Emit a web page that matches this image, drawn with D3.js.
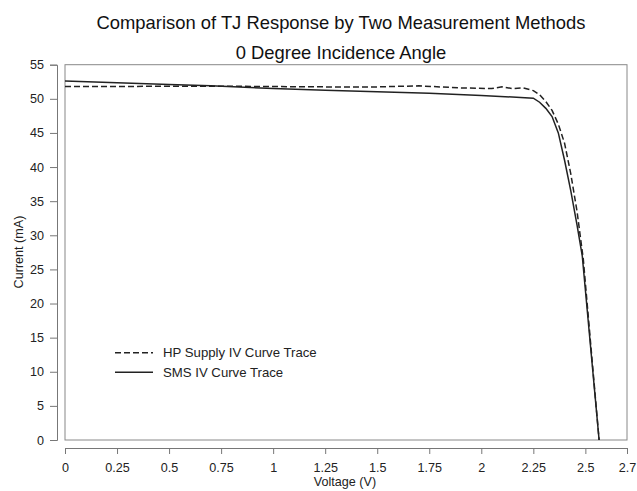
<!DOCTYPE html>
<html><head><meta charset="utf-8">
<script src="https://cdn.jsdelivr.net/npm/d3@7"></script>
<style>body{margin:0;background:#fff;} text{font-family:"Liberation Sans",Arial,Helvetica,sans-serif;}</style>
</head><body>
<svg id="c" width="637" height="491"></svg>
<script>
const hpVoltage = [0, 0.25, 0.5, 0.75, 1.0, 1.25, 1.5, 1.7, 1.9, 2.05, 2.1, 2.15, 2.2, 2.25, 2.28, 2.31, 2.34, 2.37, 2.40, 2.43, 2.46, 2.49, 2.53, 2.566];
const hpCurrent = [51.8, 51.8, 51.85, 51.85, 51.8, 51.75, 51.75, 51.9, 51.6, 51.5, 51.75, 51.5, 51.6, 51.2, 50.6, 49.6, 48.3, 46.3, 43.5, 39.0, 33.5, 26.5, 12.5, 0];
const smsVoltage = [0, 0.25, 0.5, 0.7, 1.0, 1.25, 1.5, 1.75, 2.0, 2.25, 2.28, 2.31, 2.34, 2.37, 2.40, 2.43, 2.46, 2.485, 2.566];
const smsCurrent = [52.6, 52.35, 52.1, 51.9, 51.5, 51.25, 51.05, 50.8, 50.5, 50.1, 49.5, 48.6, 47.4, 45.0, 41.0, 36.5, 31.5, 27.0, 0];
const xTicks = [0, 0.25, 0.5, 0.75, 1, 1.25, 1.5, 1.75, 2, 2.25, 2.5, 2.7];
const yTicks = [0, 5, 10, 15, 20, 25, 30, 35, 40, 45, 50, 55];
const seriesNames = ["HP Supply IV Curve Trace", "SMS IV Curve Trace"];

const svg = d3.select("#c");
const L = 65, R = 627, T = 64.7, B = 440;
const x = d3.scaleLinear().domain([0, 2.7]).range([L, R]);
const y = d3.scaleLinear().domain([0, 55]).range([B, T]);

// plot box
svg.append("rect").attr("x", L).attr("y", T).attr("width", R - L).attr("height", B - T)
  .attr("fill", "none").attr("stroke", "#888").attr("stroke-width", 1);

// axes (offset)
const xAxis = svg.append("g").attr("transform", `translate(0,448)`)
  .call(d3.axisBottom(x).tickValues(xTicks).tickFormat(d => String(d)).tickSizeOuter(0).tickSize(6).tickPadding(9));
const yAxis = svg.append("g").attr("transform", `translate(57,0)`)
  .call(d3.axisLeft(y).tickValues(yTicks).tickSizeOuter(0).tickSize(7).tickPadding(6));
[xAxis, yAxis].forEach(g => {
  g.select(".domain").attr("stroke", "#777");
  g.selectAll(".tick line").attr("stroke", "#777");
  g.selectAll(".tick text").attr("fill", "#222").style("font-size", "12.6px")
    .style("font-family", '"Liberation Sans",Arial,sans-serif');
});

const line = d3.line().x(d => x(d[0])).y(d => y(d[1]));
const hp = hpVoltage.map((v, i) => [v, hpCurrent[i]]);
const sms = smsVoltage.map((v, i) => [v, smsCurrent[i]]);

svg.append("path").datum(sms).attr("d", line).attr("fill", "none")
  .attr("stroke", "#222").attr("stroke-width", 1.5);
svg.append("path").datum(hp).attr("d", line).attr("fill", "none")
  .attr("stroke", "#222").attr("stroke-width", 1.5).attr("stroke-dasharray", "6,3");

// legend
const lg = svg.append("g");
[[352.7, "6,3"], [372.3, null]].forEach((d, i) => {
  lg.append("line").attr("x1", 115).attr("x2", 153).attr("y1", d[0]).attr("y2", d[0])
    .attr("stroke", "#222").attr("stroke-width", 1.5).attr("stroke-dasharray", d[1]);
  lg.append("text").attr("x", 163).attr("y", d[0] + 4.5).text(seriesNames[i])
    .attr("fill", "#222").style("font-size", "13.2px");
});

// titles
svg.append("text").attr("x", 341).attr("y", 29).attr("text-anchor", "middle")
  .style("font-size", "18.4px").attr("fill", "#111").text("Comparison of TJ Response by Two Measurement Methods");
svg.append("text").attr("x", 341).attr("y", 59).attr("text-anchor", "middle")
  .style("font-size", "18.4px").attr("fill", "#111").text("0 Degree Incidence Angle");
svg.append("text").attr("x", 345).attr("y", 486).attr("text-anchor", "middle")
  .style("font-size", "12.6px").attr("fill", "#222").text("Voltage (V)");
svg.append("text").attr("transform", "translate(23,252) rotate(-90)").attr("text-anchor", "middle")
  .style("font-size", "12.6px").attr("fill", "#222").text("Current (mA)");
</script>
</body></html>
